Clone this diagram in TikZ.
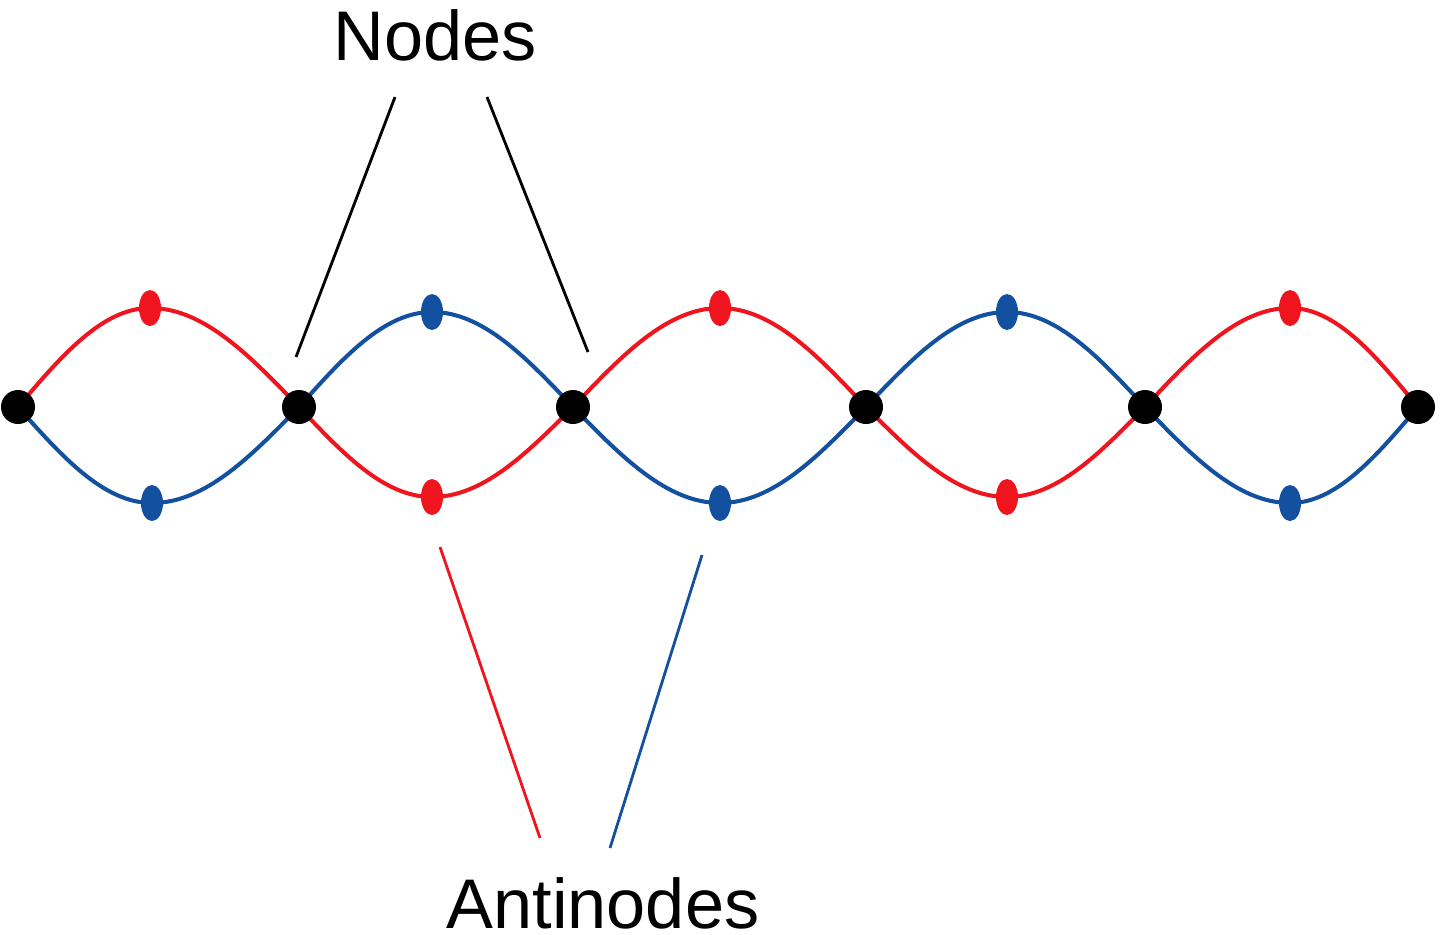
\documentclass[tikz,border=0pt]{standalone}
\usepackage{fontspec}
\setmainfont{Liberation Sans}
\usetikzlibrary{positioning,shapes.geometric}
\definecolor{wred}{RGB}{240,20,30}
\definecolor{wblue}{RGB}{20,80,160}
\tikzset{knot/.style={circle,fill=black,inner sep=0pt,minimum size=0.68cm},
         anti/.style={ellipse,inner sep=0pt,minimum width=0.44cm,minimum height=0.72cm},
         wave/.style={line width=2.3pt},
         lead/.style={line width=1.6pt}}
\begin{document}
\begin{tikzpicture}[x=0.02cm,y=-0.02cm]
\useasboundingbox (0,0) rectangle (1440,934);
% waves
\draw[wave,wred] (18,407) sin (150,308) cos (299,407) sin (432,497) cos (573,407)
  sin (720,308) cos (866,407) sin (1007,497) cos (1145,407) sin (1290,308) cos (1418,407);
\draw[wave,wblue] (18,407) sin (152,503) cos (299,407) sin (432,312) cos (573,407)
  sin (720,503) cos (866,407) sin (1007,312) cos (1145,407) sin (1290,503) cos (1418,407);
% nodes
\foreach \x/\n in {18/N0,299/N1,573/N2,866/N3,1145/N4,1418/N5}
  \node[knot] (\n) at (\x,407) {};
% antinodes
\foreach \x/\y/\c/\n in {150/308/wred/A1,432/312/wblue/A2,720/308/wred/A3,1007/312/wblue/A4,1290/308/wred/A5,
  152/503/wblue/B1,432/497/wred/B2,720/503/wblue/B3,1007/497/wred/B4,1290/503/wblue/B5}
  \node[anti,fill=\c] (\n) at (\x,\y) {};
% labels
\node[font=\fontsize{40}{48}\selectfont] (nodes) at (435,35) {Nodes};
\node[font=\fontsize{40}{48}\selectfont] (antinodes) at (603,903) {Antinodes};
\coordinate (n1) at (296,357);
\coordinate (n2) at (588,352);
\coordinate (a1) at (440,547);
\coordinate (a2) at (702,555);
\draw[lead] (395,97) -- (n1);
\draw[lead] (487,97) -- (n2);
\draw[lead,wred] (540,838) -- (a1);
\draw[lead,wblue] (610,848) -- (a2);
\end{tikzpicture}
\end{document}
